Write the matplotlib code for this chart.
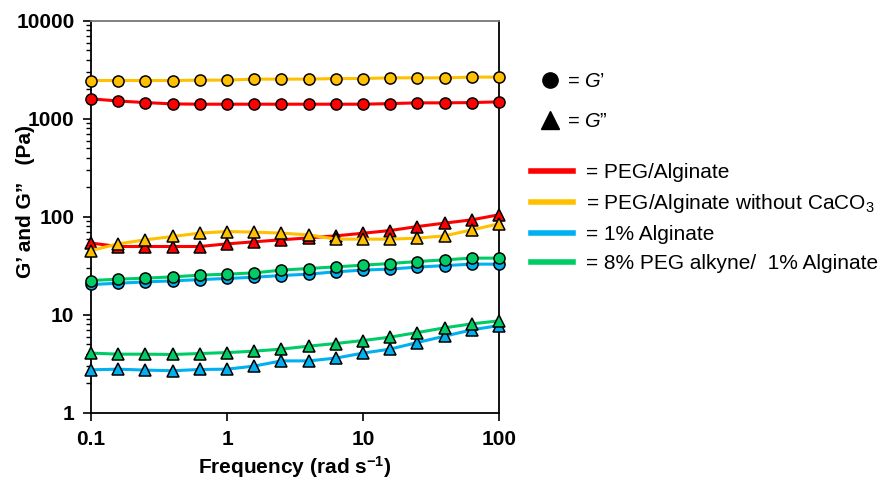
import matplotlib
matplotlib.use("Agg")
import matplotlib.pyplot as plt
from matplotlib.lines import Line2D
from matplotlib.ticker import LogLocator, FixedLocator, NullFormatter

plt.rcParams['font.family'] = ['Liberation Sans', 'DejaVu Sans']
plt.rcParams['mathtext.fontset'] = 'custom'
plt.rcParams['mathtext.rm'] = 'Liberation Sans'
plt.rcParams['mathtext.it'] = 'Liberation Sans:italic'
plt.rcParams['mathtext.bf'] = 'Liberation Sans:bold'

# frequency sweep, rad/s
freq = [0.1, 0.158, 0.251, 0.398, 0.631, 1.0, 1.58, 2.51, 3.98, 6.31,
        10.0, 15.8, 25.1, 39.8, 63.1, 100.0]

# storage modulus G' (Pa)
peg_alg_g1 = [1600, 1520, 1465, 1420, 1410, 1410, 1410, 1410, 1410, 1410,
              1410, 1430, 1455, 1455, 1465, 1490]
peg_nocaco3_g1 = [2460, 2460, 2460, 2460, 2483, 2483, 2541, 2541, 2541, 2577,
                  2577, 2620, 2620, 2620, 2665, 2665]
alg_g1 = [20.4, 21.0, 21.7, 22.2, 22.9, 23.5, 24.2, 25.2, 26.0, 27.5,
          28.6, 29.3, 30.7, 31.8, 32.9, 32.9]
peg_alk_g1 = [22.4, 23.1, 23.7, 24.4, 25.4, 26.0, 26.8, 28.6, 29.7, 30.9,
              32.1, 33.4, 35.0, 36.4, 37.9, 37.9]

# loss modulus G'' (Pa)
peg_alg_g2 = [54, 49.8, 49.8, 49.8, 49.8, 53, 55.6, 58.3, 61, 64,
              68, 72.5, 79.6, 86.3, 93.2, 105]
peg_nocaco3_g2 = [45.3, 53, 58.3, 63, 68.2, 70.8, 69.8, 68.2, 65.5, 59.2,
                  59.2, 59.2, 60.6, 64, 73.6, 84.9]
alg_g2 = [2.75, 2.79, 2.73, 2.69, 2.77, 2.79, 3.0, 3.39, 3.39, 3.62,
          4.07, 4.47, 5.22, 6.06, 7.03, 7.78]
peg_alk_g2 = [4.07, 3.97, 3.97, 3.94, 4.03, 4.12, 4.26, 4.47, 4.79, 5.1,
              5.47, 5.92, 6.6, 7.37, 8.1, 8.68]

names = ['= PEG/Alginate', '= PEG/Alginate without CaCO$_3$',
         '= 1% Alginate', '= 8% PEG alkyne/  1% Alginate']
colors = ['#FF0000', '#FFC000', '#00B0F0', '#00CC66']
g1_sets = [peg_alg_g1, peg_nocaco3_g1, alg_g1, peg_alk_g1]
g2_sets = [peg_alg_g2, peg_nocaco3_g2, alg_g2, peg_alk_g2]

fig = plt.figure(figsize=(8.84, 4.84), dpi=100)
ax = fig.add_axes([0.103, 0.147, 0.4615, 0.81])

for g2, c in zip(g2_sets, colors):
    ax.plot(freq, g2, color=c, lw=2.2, marker='^', ms=9, mfc=c,
            mec='black', mew=1.1, clip_on=False, zorder=3)
for g1, c in zip(g1_sets, colors):
    ax.plot(freq, g1, color=c, lw=2.2, marker='o', ms=8, mfc=c,
            mec='black', mew=1.1, clip_on=False, zorder=4)

ax.set_xscale('log')
ax.set_yscale('log')
ax.set_xlim(0.1, 100)
ax.set_ylim(1, 10000)

ax.xaxis.set_major_locator(FixedLocator([0.1, 1, 10, 100]))
ax.xaxis.set_minor_locator(FixedLocator([]))
ax.set_xticklabels(['0.1', '1', '10', '100'])
ax.yaxis.set_major_locator(FixedLocator([1, 10, 100, 1000, 10000]))
ax.set_yticklabels(['1', '10', '100', '1000', '10000'])
ax.yaxis.set_minor_locator(LogLocator(base=10, subs=range(2, 10)))
ax.yaxis.set_minor_formatter(NullFormatter())

ax.tick_params(axis='both', which='major', direction='out', length=6,
               width=1.2, labelsize=15, pad=6)
ax.tick_params(axis='y', which='minor', direction='out', length=3.5, width=1)
for lab in ax.get_xticklabels() + ax.get_yticklabels():
    lab.set_fontweight('bold')

for side in ['left', 'bottom', 'right']:
    ax.spines[side].set_linewidth(1.3)
    ax.spines[side].set_color('black')
ax.spines['top'].set_color('#777777')
ax.spines['top'].set_linewidth(1.3)

ax.set_xlabel('Frequency (rad s$^{\\mathbf{-1}}$)', fontsize=15,
              fontweight='bold', labelpad=4)
ax.set_ylabel('G\u2019 and G\u201d   (Pa)', fontsize=15, fontweight='bold')
ax.yaxis.set_label_coords(-0.137, 0.54)

# marker key
mk = [Line2D([], [], color='black', marker='o', ls='none', ms=11),
      Line2D([], [], color='black', marker='^', ls='none', ms=13)]
leg1 = fig.legend(mk, ['= $\\mathit{G}$\u2019', '= $\\mathit{G}$\u201d'],
                  loc='upper left', bbox_to_anchor=(0.588, 0.888),
                  frameon=False, fontsize=14.5, labelspacing=1.05,
                  handletextpad=0.25, handlelength=1.2)

# colour key
lk = [Line2D([], [], color=c, lw=4) for c in colors]
leg2 = fig.legend(lk, names, loc='upper left', bbox_to_anchor=(0.580, 0.702),
                  frameon=False, fontsize=15, labelspacing=0.48,
                  handletextpad=0.6, handlelength=2.0)

fig.savefig('out.png', dpi=100)
